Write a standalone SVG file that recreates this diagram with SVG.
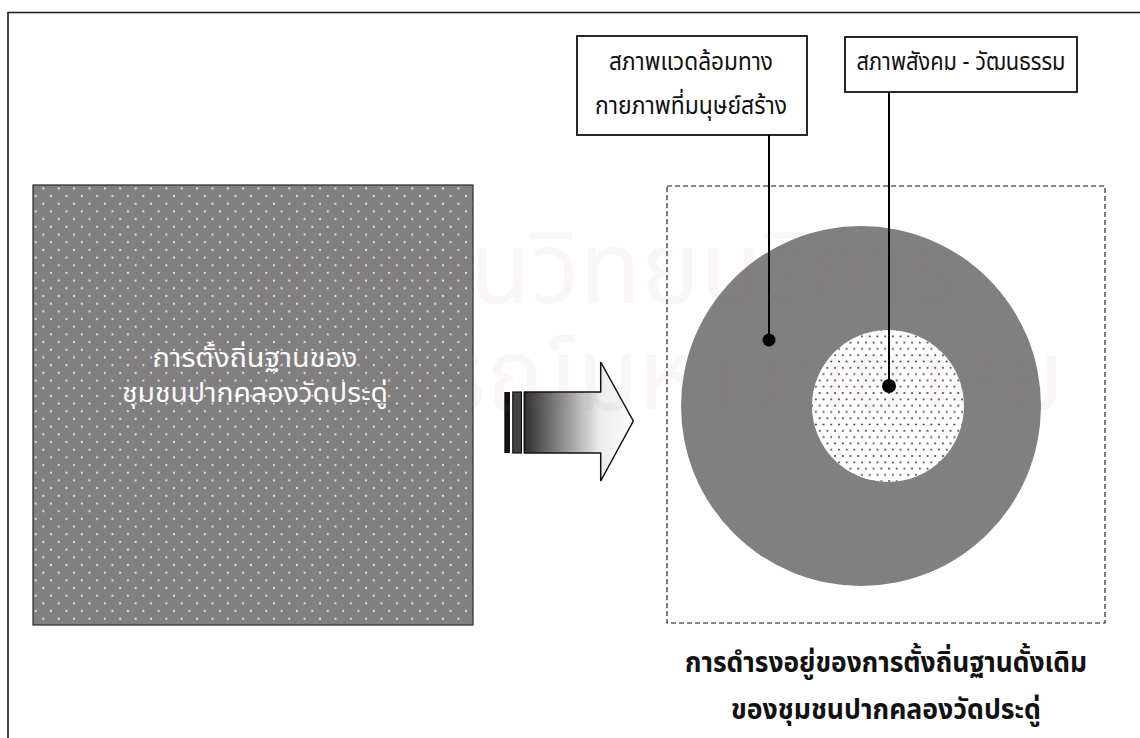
<svg xmlns="http://www.w3.org/2000/svg" width="1140" height="738" viewBox="0 0 1140 738">
  <style>
    .th { font-family: "Noto Sans Thai", "Noto Sans", "DejaVu Sans", sans-serif; }
    .lbl { font-size: 25px; fill: #111; text-anchor: middle; }
    .inv { font-size: 27px; fill: #ffffff; text-anchor: middle; }
    .ttl { font-size: 29px; font-weight: bold; fill: #111; text-anchor: middle; }
    .wm { font-size: 100px; fill: #b05070; fill-opacity: 0.06; text-anchor: middle; }
    .box { fill: #ffffff; stroke: #111; stroke-width: 1.8; }
    .conn { stroke: #000; stroke-width: 2; fill: none; }
  </style>
  <defs>
    <pattern id="wdots" patternUnits="userSpaceOnUse" x="35.7" y="565" width="15.37" height="15.37">
      <circle cx="0" cy="0" r="1.1" fill="#e6e6e6"/>
      <circle cx="15.37" cy="0" r="1.1" fill="#e6e6e6"/>
      <circle cx="0" cy="15.37" r="1.1" fill="#e6e6e6"/>
      <circle cx="15.37" cy="15.37" r="1.1" fill="#e6e6e6"/>
      <circle cx="7.685" cy="7.685" r="1.1" fill="#e6e6e6"/>
    </pattern>
    <pattern id="bdots" patternUnits="userSpaceOnUse" x="812" y="330" width="7.7" height="12.6">
      <circle cx="0" cy="0" r="0.9" fill="#222"/>
      <circle cx="7.7" cy="0" r="0.9" fill="#222"/>
      <circle cx="0" cy="12.6" r="0.9" fill="#222"/>
      <circle cx="7.7" cy="12.6" r="0.9" fill="#222"/>
      <circle cx="3.85" cy="6.3" r="0.9" fill="#222"/>
    </pattern>
    <linearGradient id="agrad" gradientUnits="userSpaceOnUse" x1="524" y1="0" x2="633" y2="0">
      <stop offset="0" stop-color="#2e2e2e"/>
      <stop offset="0.7" stop-color="#ececec"/>
      <stop offset="1" stop-color="#fbfbfb"/>
    </linearGradient>
  </defs>

  <rect x="0" y="0" width="1140" height="738" fill="#ffffff"/>

  <g id="frame">
    <path d="M8,738 V12.5 H1140" fill="none" stroke="#1a1a1a" stroke-width="1.6"/>
  </g>

  <g id="settlement">
    <rect x="33" y="185" width="440" height="440" fill="#808080" stroke="#2a2a2a" stroke-width="1.2"/>
    <rect x="33.6" y="185.6" width="438.8" height="438.8" fill="url(#wdots)"/>
    <text class="th inv" x="255" y="367" textLength="205" lengthAdjust="spacingAndGlyphs">การตั้งถิ่นฐานของ</text>
    <text class="th inv" x="255" y="402" textLength="266" lengthAdjust="spacingAndGlyphs">ชุมชนปากคลองวัดประดู่</text>
  </g>

  <g id="arrow">
    <rect x="504.3" y="392" width="5.7" height="61" fill="#111"/>
    <rect x="512.8" y="392" width="8.6" height="61" fill="#444" stroke="#111" stroke-width="1.2"/>
    <path d="M524.3,392 H600.7 V362 L633.3,421 L600.7,481 V453 H524.3 Z" fill="url(#agrad)" stroke="#111" stroke-width="1.5" stroke-linejoin="miter"/>
  </g>

  <g id="existing">
    <rect x="667" y="186" width="438" height="437" fill="none" stroke="#111" stroke-width="1.1" stroke-dasharray="5,3"/>
    <circle cx="861" cy="406" r="180" fill="#808080"/>
    <circle cx="888" cy="406" r="76" fill="#ffffff"/>
    <circle cx="888" cy="406" r="76" fill="url(#bdots)"/>
  </g>

  <g id="label-physical">
    <rect class="box" x="577" y="36" width="230" height="99"/>
    <text class="th lbl" x="691" y="70" textLength="164" lengthAdjust="spacingAndGlyphs">สภาพแวดล้อมทาง</text>
    <text class="th lbl" x="691" y="114" textLength="192" lengthAdjust="spacingAndGlyphs">กายภาพที่มนุษย์สร้าง</text>
  </g>

  <g id="label-social">
    <rect class="box" x="845" y="37" width="232" height="55"/>
    <text class="th lbl" x="961" y="70" textLength="209" lengthAdjust="spacingAndGlyphs">สภาพสังคม - วัฒนธรรม</text>
  </g>

  <g id="connectors">
    <line class="conn" x1="769" y1="135" x2="769" y2="340"/>
    <circle cx="769" cy="340" r="6.5" fill="#000"/>
    <line class="conn" x1="889" y1="92" x2="889" y2="386"/>
    <circle cx="889" cy="386" r="7" fill="#000"/>
  </g>

  <g id="title">
    <text class="th ttl" x="886" y="672" textLength="402" lengthAdjust="spacingAndGlyphs">การดำรงอยู่ของการตั้งถิ่นฐานดั้งเดิม</text>
    <text class="th ttl" x="886" y="719" textLength="310" lengthAdjust="spacingAndGlyphs">ของชุมชนปากคลองวัดประดู่</text>
  </g>

  <g id="watermark">
    <text class="th wm" x="605" y="303">สถาบันวิทยบริการ</text>
    <text class="th wm" x="585" y="410">จุฬาลงกรณ์มหาวิทยาลัย</text>
  </g>
</svg>
